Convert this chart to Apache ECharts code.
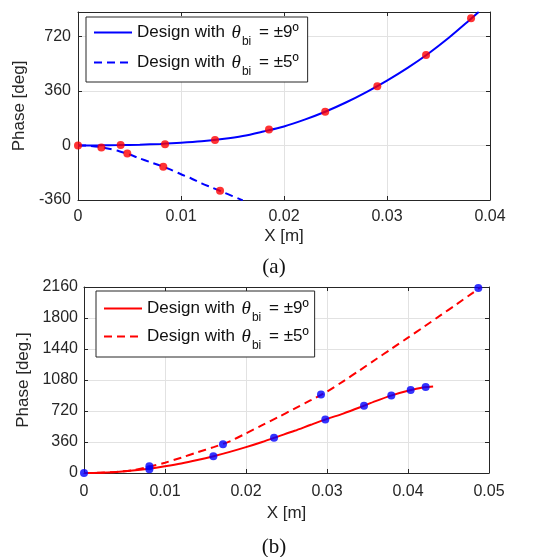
<!DOCTYPE html>
<html>
<head>
<meta charset="utf-8">
<script src="https://cdn.jsdelivr.net/npm/echarts@6/dist/echarts.min.js"></script>
<style>html,body{margin:0;padding:0;background:#fff}#c{width:548px;height:557px}</style>
</head>
<body>
<div id="c"></div>
<script>
// ---- (a) top panel ----
const aX9 = [0, 0.002, 0.004, 0.006, 0.008, 0.010, 0.012, 0.014, 0.016, 0.018, 0.020, 0.022, 0.024, 0.026, 0.028, 0.030, 0.032, 0.034, 0.036, 0.038, 0.0389];
const aY9 = [0, 0.5, 2, 5, 10, 17, 27, 42, 62, 92, 125, 170, 222, 283, 352, 428, 512, 605, 710, 826, 880];
const aX5 = [0, 0.001, 0.002, 0.003, 0.004, 0.005, 0.006, 0.007, 0.008, 0.009, 0.010, 0.011, 0.012, 0.013, 0.014, 0.015, 0.016];
const aY5 = [0, -2, -9, -22, -38, -60, -86, -110, -133, -160, -190, -218, -250, -278, -306, -334, -362];
const aDotX = [0, 0.00227, 0.00414, 0.00479, 0.00845, 0.00828, 0.0133, 0.01379, 0.01854, 0.0240, 0.02906, 0.03379, 0.03816];
const aDotY = [0, -13, 3, -53, 8, -140, 35, -299, 105, 222, 391, 597, 839];
const aXTicks = [0, 0.01, 0.02, 0.03, 0.04];
const aYTicks = [-360, 0, 360, 720];

// ---- (b) bottom panel ----
const bX9 = [0, 0.002, 0.004, 0.006, 0.008, 0.010, 0.012, 0.014, 0.016, 0.018, 0.020, 0.022, 0.024, 0.026, 0.028, 0.030, 0.032, 0.034, 0.036, 0.038, 0.040, 0.042, 0.0431];
const bY9 = [0, 3, 13, 28, 50, 78, 110, 150, 195, 245, 300, 360, 425, 490, 560, 628, 690, 760, 835, 902, 955, 995, 1005];
const bX5 = [0, 0.002, 0.004, 0.006, 0.008, 0.010, 0.012, 0.014, 0.016, 0.018, 0.020, 0.022, 0.024, 0.026, 0.028, 0.030, 0.032, 0.034, 0.036, 0.038, 0.040, 0.042, 0.044, 0.046, 0.048, 0.049];
const bY5 = [0, 3, 13, 32, 72, 120, 178, 240, 300, 368, 460, 555, 650, 748, 845, 945, 1065, 1190, 1318, 1445, 1572, 1700, 1830, 1960, 2092, 2160];
const bDotX = [0, 0.00807, 0.00807, 0.01597, 0.01716, 0.02346, 0.02926, 0.02979, 0.03457, 0.03794, 0.04033, 0.04218, 0.04868];
const bDotY = [0, 78, 43, 194, 334, 408, 913, 621, 781, 901, 963, 998, 2148];
const bXTicks = [0, 0.01, 0.02, 0.03, 0.04, 0.05];
const bYTicks = [0, 360, 720, 1080, 1440, 1800, 2160];

const legendLabels = {
  a9: '{a|Design with }{t|θ}{s|bi}{a| = ±9º}',
  a5: '{a|Design with }{t|θ}{s|bi}{a| = ±5º}',
  b9: '{a|Design with }{t|θ}{s|bi}{a| = ±9º}',
  b5: '{a|Design with }{t|θ}{s|bi}{a| = ±5º}'
};

const zip = (xs, ys) => xs.map((x, i) => [x, ys[i]]);
const BLUE = '#0000ff', RED = '#ff0000', AX = '#262626', GRIDC = '#e2e2e2';
const FONT = 'Liberation Sans, Arial, sans-serif';

function xAxes(grid, ticks, nameGap, labelMargin) {
  const min = ticks[0], max = ticks[ticks.length - 1];
  return [{
    gridIndex: grid, type: 'value', position: 'bottom', min, max, interval: 0.01,
    name: 'X [m]', nameLocation: 'middle', nameGap,
    nameTextStyle: { fontFamily: FONT, fontSize: 17, color: AX },
    axisLine: { show: true, onZero: false, lineStyle: { color: AX, width: 1 } },
    axisTick: { show: true, inside: true, length: 4, lineStyle: { color: AX } },
    axisLabel: { fontFamily: FONT, fontSize: 16, color: AX, margin: labelMargin,
      formatter: v => (ticks.some(t => Math.abs(t - v) < 1e-9) ? (v === 0 ? '0' : (+v).toFixed(2)) : '') },
    splitLine: { show: true, lineStyle: { color: GRIDC, width: 1 } }
  }, {
    gridIndex: grid, type: 'value', position: 'top', min, max, interval: 0.01,
    axisLine: { show: true, onZero: false, lineStyle: { color: AX, width: 1 } },
    axisTick: { show: true, inside: true, length: 4, lineStyle: { color: AX } },
    axisLabel: { show: false }, splitLine: { show: false }
  }];
}
function yAxes(grid, ticks, min, max, name, nameGap, labelMargin) {
  return [{
    gridIndex: grid, type: 'value', position: 'left', min, max, interval: 360,
    name, nameLocation: 'middle', nameGap,
    nameTextStyle: { fontFamily: FONT, fontSize: 17, color: AX },
    axisLine: { show: true, onZero: false, lineStyle: { color: AX, width: 1 } },
    axisTick: { show: true, inside: true, length: 4, lineStyle: { color: AX } },
    axisLabel: { fontFamily: FONT, fontSize: 16, color: AX, margin: labelMargin, showMaxLabel: ticks.indexOf(max) >= 0,
      formatter: v => (ticks.indexOf(v) >= 0 ? String(v) : '') },
    splitLine: { show: true, lineStyle: { color: GRIDC, width: 1 } }
  }, {
    gridIndex: grid, type: 'value', position: 'right', min, max, interval: 360,
    axisLine: { show: true, onZero: false, lineStyle: { color: AX, width: 1 } },
    axisTick: { show: true, inside: true, length: 4, lineStyle: { color: AX } },
    axisLabel: { show: false }, splitLine: { show: false }
  }];
}

const rich = {
  a: { fontFamily: FONT, fontSize: 17, color: '#111' },
  t: { fontFamily: 'Liberation Serif, Times New Roman, serif', fontStyle: 'italic', fontSize: 19, color: '#111', padding: [0, 1, 0, 2] },
  s: { fontFamily: FONT, fontSize: 12, color: '#111', padding: [19, 3, 0, 0] }
};
function legend(left, top, names, pad, gap) {
  return {
    orient: 'vertical', left, top, data: names,
    backgroundColor: '#fff', borderColor: AX, borderWidth: 1,
    padding: pad, itemGap: gap, itemWidth: 38, itemHeight: 12,
    itemStyle: { opacity: 0 },
    textStyle: { fontFamily: FONT, fontSize: 17, color: '#111', rich },
    formatter: n => legendLabels[n],
    selectedMode: false
  };
}

const option = {
  animation: false,
  backgroundColor: '#fff',
  title: [
    { text: '(a)', left: 'center', top: 252, textStyle: { fontFamily: 'Liberation Serif, Times New Roman, serif', fontSize: 21, fontWeight: 'normal', color: '#111' } },
    { text: '(b)', left: 'center', top: 532, textStyle: { fontFamily: 'Liberation Serif, Times New Roman, serif', fontSize: 21, fontWeight: 'normal', color: '#111' } }
  ],
  grid: [
    { left: 78, top: 12, width: 412, height: 188 },
    { left: 84, top: 287, width: 405, height: 186 }
  ],
  xAxis: [...xAxes(0, aXTicks, 28, 9), ...xAxes(1, bXTicks, 32, 11)],
  yAxis: [...yAxes(0, aYTicks, -360, 880, 'Phase [deg]', 46, 7), ...yAxes(1, bYTicks, 0, 2160, 'Phase [deg.]', 51, 6)],
  legend: [legend(86, 17, ['a9', 'a5'], [6, 9, 4, 7], 5), legend(96, 291, ['b9', 'b5'], [8, 6, 5, 7], 3)],
  series: [
    { name: 'a9', type: 'line', xAxisIndex: 0, yAxisIndex: 0, data: zip(aX9, aY9), showSymbol: false, symbol: 'none', smooth: 0.3,
      lineStyle: { color: BLUE, width: 2 }, itemStyle: { color: BLUE }, z: 3 },
    { name: 'a5', type: 'line', xAxisIndex: 0, yAxisIndex: 0, data: zip(aX5, aY5), showSymbol: false, symbol: 'none', smooth: 0.3,
      lineStyle: { color: BLUE, width: 2, type: [8, 5] }, itemStyle: { color: BLUE }, z: 3 },
    { name: 'aDots', type: 'scatter', xAxisIndex: 0, yAxisIndex: 0, data: zip(aDotX, aDotY), symbolSize: 8,
      itemStyle: { color: RED }, z: 4 },
    { name: 'b9', type: 'line', xAxisIndex: 2, yAxisIndex: 2, data: zip(bX9, bY9), showSymbol: false, symbol: 'none', smooth: 0.3,
      lineStyle: { color: RED, width: 2 }, itemStyle: { color: RED }, z: 3 },
    { name: 'b5', type: 'line', xAxisIndex: 2, yAxisIndex: 2, data: zip(bX5, bY5), showSymbol: false, symbol: 'none', smooth: 0.3,
      lineStyle: { color: RED, width: 2, type: [8, 5] }, itemStyle: { color: RED }, z: 3 },
    { name: 'bDots', type: 'scatter', xAxisIndex: 2, yAxisIndex: 2, data: zip(bDotX, bDotY), symbolSize: 8,
      itemStyle: { color: BLUE }, z: 4 }
  ]
};
const chart = echarts.init(document.getElementById('c'), null, { renderer: 'canvas' });
chart.setOption(option);
</script>
</body>
</html>
